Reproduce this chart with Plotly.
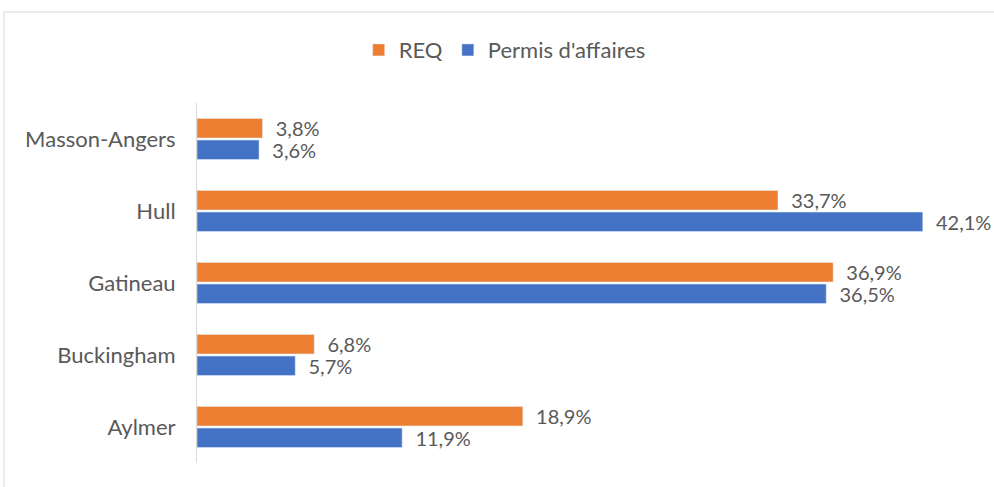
import plotly.graph_objects as go

categories = ["Aylmer", "Buckingham", "Gatineau", "Hull", "Masson-Angers"]
req_values = [18.9, 6.8, 36.9, 33.7, 3.8]
permis_values = [11.9, 5.7, 36.5, 42.1, 3.6]
series_names = ["REQ", "Permis d'affaires"]

def fmt(v):
    return f"{v:.1f}".replace(".", ",") + "%"

FONT = "Lato"
TXT = "#595959"
FS = 22
LFS = 20

fig = go.Figure()
fig.add_trace(go.Bar(
    y=categories, x=permis_values, name=series_names[1], orientation="h",
    marker=dict(color="#4472C4"), text=[fmt(v) for v in permis_values],
    texttemplate="  %{text}", textposition="outside", cliponaxis=False,
    constraintext="none",
    textfont=dict(family=FONT, size=LFS, color=TXT),
))
fig.add_trace(go.Bar(
    y=categories, x=req_values, name=series_names[0], orientation="h",
    marker=dict(color="#ED7D31"), text=[fmt(v) for v in req_values],
    texttemplate="  %{text}", textposition="outside", cliponaxis=False,
    constraintext="none",
    textfont=dict(family=FONT, size=LFS, color=TXT),
))

fig.update_layout(
    width=994, height=487,
    margin=dict(l=197, r=4, t=103, b=24),
    paper_bgcolor="white", plot_bgcolor="white",
    barmode="group", bargap=0.40, bargroupgap=0.1,
    font=dict(family=FONT, size=FS, color=TXT),
    showlegend=True,
    legend=dict(orientation="h", traceorder="reversed", x=0.388, xanchor="center",
                y=1.147, yanchor="middle", font=dict(family=FONT, size=FS, color=TXT),
                itemwidth=30),
    xaxis=dict(range=[0, 46], showgrid=False, showticklabels=False, zeroline=False,
               showline=False, ticks=""),
    yaxis=dict(showgrid=False, showline=True, linecolor="#d9d9d9", linewidth=1,
               ticks="", ticklabelstandoff=16, tickfont=dict(family=FONT, size=FS, color=TXT)),
    shapes=[dict(type="rect", xref="paper", yref="paper",
                 x0=-0.2434, x1=1.0126, y0=-0.089, y1=1.2528,
                 line=dict(color="#d9d9d9", width=1), layer="below")],
)

fig.write_html("out.html", config={"displayModeBar": False},
               post_script="document.body.style.margin='0';document.body.style.overflow='hidden';")
